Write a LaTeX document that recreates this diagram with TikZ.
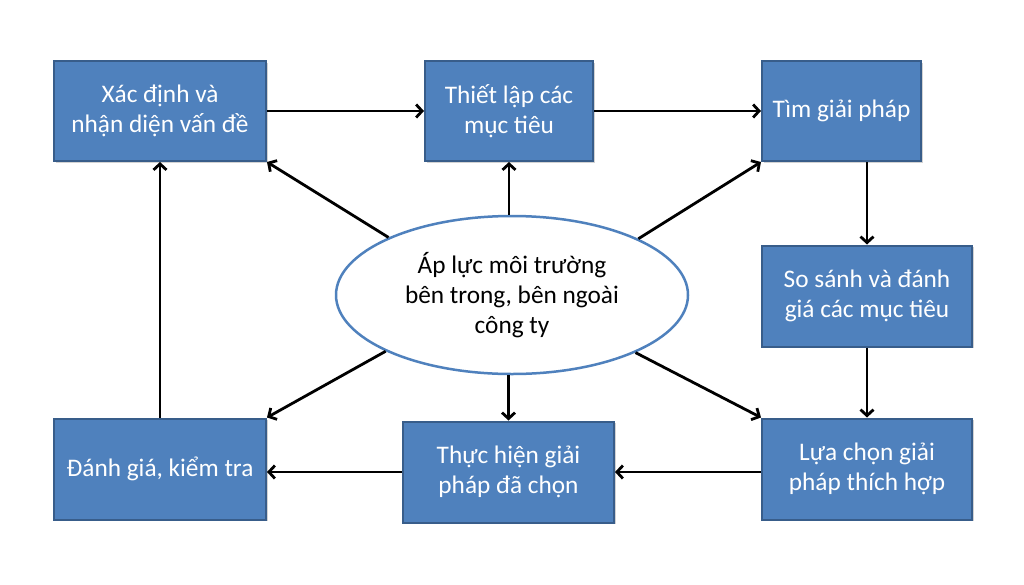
\documentclass[tikz,border=0pt]{standalone}
\usepackage{fontspec}
\setmainfont{Carlito}
\usetikzlibrary{arrows.meta,shapes.geometric,shadows}
\definecolor{boxfill}{HTML}{4F81BD}
\definecolor{boxline}{HTML}{385D8A}
\begin{document}
\begin{tikzpicture}[x=1pt,y=-1pt,
  box/.style={draw=boxline, line width=2pt, fill=boxfill, text=white, align=center,
    font=\fontsize{25.3}{30}\selectfont, inner sep=0pt,
    drop shadow={opacity=0.35, shadow xshift=1.5pt, shadow yshift=-1.5pt}},
  ell/.style={ellipse, draw=boxfill, line width=2.5pt, fill=white, align=center,
    font=\fontsize{25.3}{30}\selectfont, inner sep=0pt, minimum width=352pt, minimum height=158pt},
  conn/.style={line width=2.8pt, -{Straight Barb[length=6pt,width=13pt,line width=2.8pt]}}]
\useasboundingbox (0,0) rectangle (1024,584);
\fill[white] (0,0) rectangle (1024,584);
\node[box, minimum width=212pt, minimum height=100pt] (b1) at (160,111) {Xác định và\\nhận diện vấn đề};
\node[box, minimum width=168pt, minimum height=100pt] (b2) at (509,111) {Thiết lập các\\mục tiêu};
\node[box, minimum width=159pt, minimum height=100pt] (b3) at (841.5,111) {Tìm giải pháp};
\node[box, minimum width=210pt, minimum height=101pt] (b4) at (867,296) {So sánh và đánh\\giá các mục tiêu};
\node[box, minimum width=210pt, minimum height=101pt] (b5) at (867,469) {Lựa chọn giải\\pháp thích hợp};
\node[box, minimum width=211pt, minimum height=101pt] (b6) at (508.5,472) {Thực hiện giải\\pháp đã chọn};
\node[box, minimum width=212pt, minimum height=101pt] (b7) at (160,469) {Đánh giá, kiểm tra};
\node[ell] (e) at (512,295) {Áp lực môi trường\\bên trong, bên ngoài\\công ty};
% main cycle
\draw[conn] (b1.east) -- (b2.west);
\draw[conn] (b2.east) -- (b3.west);
\draw[conn] (b3.south -| b4.north) -- (b4.north);
\draw[conn] (b4.south) -- (b5.north);
\draw[conn] (b5.west |- b6.east) -- (b6.east);
\draw[conn] (b6.west) -- (b7.east |- b6.west);
\draw[conn] (b7.north) -- (b1.south);
% from ellipse
\draw[conn] (e.north -| b2.south) -- (b2.south);
\draw[conn] (e.south -| b6.north) -- (b6.north);
\draw[conn] (e.155.7) -- (b1.south east);
\draw[conn] (e.24.7) -- (b3.south west);
\draw[conn] (e.-25.4) -- (b5.north west);
\draw[conn] (e.204.5) -- (b7.north east);
\end{tikzpicture}
\end{document}
